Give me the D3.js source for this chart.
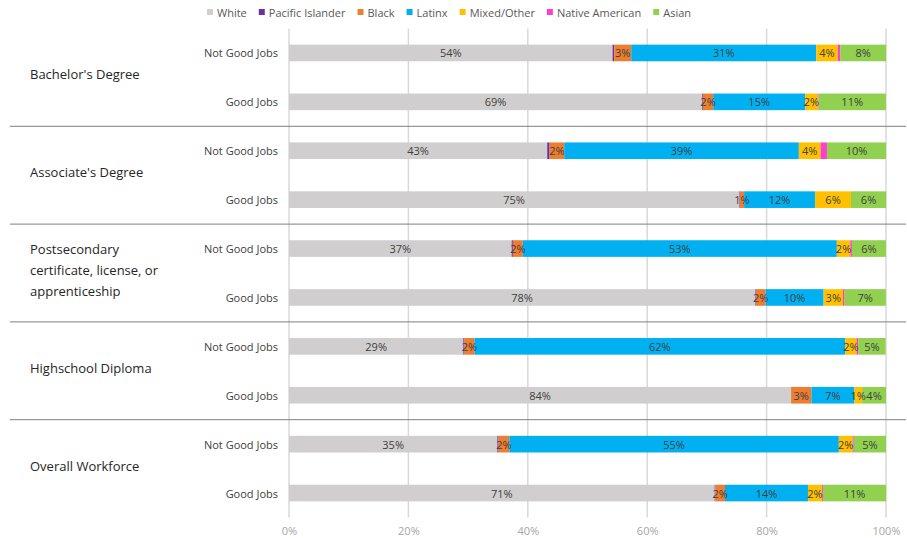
<!DOCTYPE html>
<html><head><meta charset="utf-8">
<script src="https://cdn.jsdelivr.net/npm/d3@7"></script>
<style>
html,body{margin:0;padding:0;background:#fff;}
text{font-family:"Open Sans",sans-serif;}
</style></head>
<body>
<svg id="chart" width="907" height="538"></svg>
<script>
const groups = ["Bachelor's Degree", "Associate's Degree", "Postsecondary certificate, license, or apprenticeship", "Highschool Diploma", "Overall Workforce"];
const groupLines = [["Bachelor's Degree"], ["Associate's Degree"], ["Postsecondary", "certificate, license, or", "apprenticeship"], ["Highschool Diploma"], ["Overall Workforce"]];
const jobTypes = ["Not Good Jobs", "Good Jobs"];
const seriesNames = ["White", "Pacific Islander", "Black", "Latinx", "Mixed/Other", "Native American", "Asian"];
const seriesColors = ["#d0cece", "#7030a0", "#ed7d31", "#00b0f0", "#ffc000", "#ff3fcc", "#92d050"];
const labeledSeries = ["White", "Black", "Latinx", "Mixed/Other", "Asian"];
// rows in order: each group -> Not Good Jobs, Good Jobs
const white   = [54.2, 69.2, 43.25, 75.4, 37.3, 78.1, 29.2, 84.1, 34.9, 71.3];
const pacific = [0.27, 0.13, 0.4, 0.1, 0.2, 0.1, 0.2, 0, 0.2, 0.13];
const black   = [2.85, 1.73, 2.45, 0.73, 1.66, 1.6, 1.66, 3.4, 1.8, 1.6];
const latinx  = [31.0, 15.4, 39.3, 11.9, 52.6, 9.75, 62.1, 7.2, 55.2, 13.9];
const mixed   = [3.6, 2.1, 3.65, 6.0, 2.26, 3.25, 1.9, 1.3, 2.3, 2.3];
const native  = [0.4, 0.13, 1.06, 0, 0.27, 0.27, 0.27, 0, 0.2, 0.2];
const asian   = [7.7, 11.3, 9.9, 5.9, 5.7, 6.9, 4.6, 4.0, 5.4, 10.6];
const xTicks = [0, 20, 40, 60, 80, 100];

const seriesValues = [white, pacific, black, latinx, mixed, native, asian];
const rows = [];
groups.forEach((g, gi) => jobTypes.forEach((j, ji) => {
  const idx = gi * 2 + ji;
  const r = {key: g + "|" + j, group: g, job: j};
  seriesNames.forEach((s, si) => r[s] = seriesValues[si][idx]);
  rows.push(r);
}));

const svg = d3.select("#chart");
const x = d3.scaleLinear().domain([0, 100]).range([289, 886]);
const y = d3.scaleBand().domain(rows.map(d => d.key)).range([28.5, 517.5]).paddingInner(0.66).paddingOuter(0.33);
const color = d3.scaleOrdinal().domain(seriesNames).range(seriesColors);

// gridlines
svg.append("g").selectAll("line").data(xTicks).join("line")
  .attr("x1", d => x(d)).attr("x2", d => x(d))
  .attr("y1", 28.5).attr("y2", 517.5)
  .attr("stroke", "#d9d9d9").attr("stroke-width", 1.5);

// x axis
const xAxis = svg.append("g").attr("transform", "translate(0,522)")
  .call(d3.axisBottom(x).tickValues(xTicks).tickFormat(d => d + "%").tickSize(0).tickPadding(5));
xAxis.select(".domain").remove();
xAxis.selectAll("text").attr("fill", "#a6a6a6").style("font-size", "11px").style("font-family", "'Open Sans',sans-serif");

// stacked bars
const stack = d3.stack().keys(seriesNames)(rows);
const layers = svg.append("g").selectAll("g").data(stack).join("g").attr("fill", d => color(d.key));
layers.selectAll("rect").data(d => d).join("rect")
  .attr("x", d => x(d[0])).attr("width", d => Math.max(0, x(d[1]) - x(d[0])))
  .attr("y", d => y(d.data.key)).attr("height", y.bandwidth());

// data labels
const lab = svg.append("g");
stack.filter(l => labeledSeries.includes(l.key)).forEach(l => {
  lab.selectAll(null).data(l.filter(d => d[1] - d[0] >= 0.5)).join("text")
    .attr("x", d => x((d[0] + d[1]) / 2)).attr("y", d => y(d.data.key) + y.bandwidth() / 2)
    .attr("text-anchor", "middle").attr("dominant-baseline", "central")
    .attr("fill", "#404040").style("font-size", "11px")
    .text(d => Math.round(d[1] - d[0]) + "%");
});

// row labels
svg.append("g").selectAll("text").data(rows).join("text")
  .attr("x", 278).attr("y", d => y(d.key) + y.bandwidth() / 2)
  .attr("text-anchor", "end").attr("dominant-baseline", "central")
  .attr("fill", "#404040").style("font-size", "11px")
  .text(d => d.job);

// group labels & separators
const step = y.step();
groups.forEach((g, gi) => {
  const c1 = y(rows[gi * 2].key) + y.bandwidth() / 2;
  const c2 = y(rows[gi * 2 + 1].key) + y.bandwidth() / 2;
  const mid = (c1 + c2) / 2 - 3;
  const lines = groupLines[gi];
  const lh = 21;
  const t = svg.append("text").attr("x", 30).attr("fill", "#262626").style("font-size", "13px");
  lines.forEach((ln, li) => {
    t.append("tspan").attr("x", 30)
      .attr("y", mid + (li - (lines.length - 1) / 2) * lh)
      .attr("dominant-baseline", "central").text(ln);
  });
  if (gi < groups.length - 1) {
    const by = c2 + step / 2;
    svg.append("line").attr("x1", 10).attr("x2", 906).attr("y1", by).attr("y2", by)
      .attr("stroke", "#7f7f7f").attr("stroke-width", 1);
  }
});

// legend
const leg = svg.append("g");
let lx = 207;
seriesNames.forEach(s => {
  leg.append("rect").attr("x", lx).attr("y", 9).attr("width", 6).attr("height", 6).attr("fill", color(s));
  const t = leg.append("text").attr("x", lx + 10).attr("y", 12).attr("dominant-baseline", "central")
    .attr("fill", "#595959").style("font-size", "11px").text(s);
  lx += 10 + t.node().getComputedTextLength() + 12;
});
</script>
</body></html>
